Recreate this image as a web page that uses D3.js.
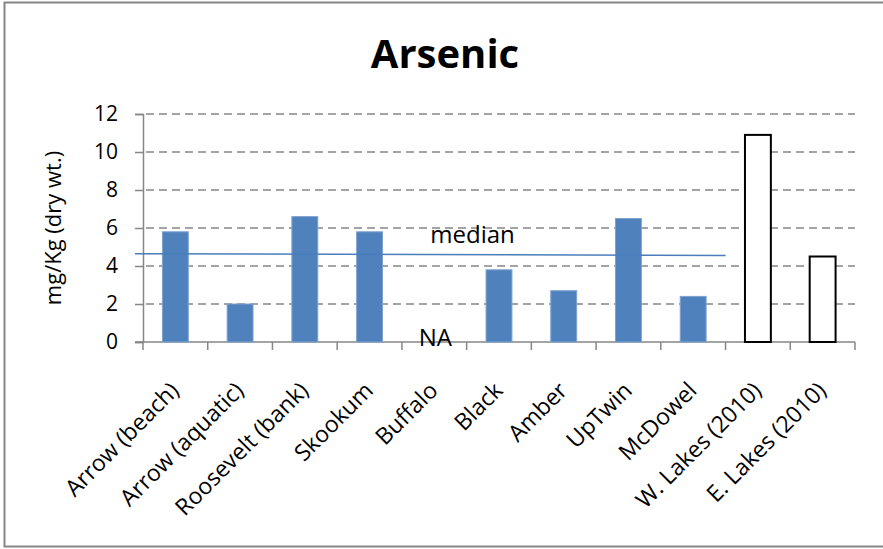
<!DOCTYPE html>
<html>
<head>
<meta charset="utf-8">
<script src="https://cdn.jsdelivr.net/npm/d3@7"></script>
<style>
body { margin: 0; background: #fff; }
text { font-family: "Open Sans", "Noto Sans", sans-serif; fill: #000; }
</style>
</head>
<body>
<script>
var sites = ["Arrow (beach)", "Arrow (aquatic)", "Roosevelt (bank)", "Skookum", "Buffalo",
    "Black", "Amber", "UpTwin", "McDowel", "W. Lakes (2010)", "E. Lakes (2010)"];
var arsenic = [5.8, 2.0, 6.6, 5.8, null, 3.8, 2.7, 6.5, 2.4, 10.9, 4.5];
// the two 2010 lakes are drawn as open bars
var historic = [false, false, false, false, false, false, false, false, false, true, true];
var medianEnds = [4.65, 4.55];
var yTicks = [0, 2, 4, 6, 8, 10, 12];

var W = 883, H = 549;
var margin = { top: 114, right: 28, bottom: 207, left: 143 };
var width = W - margin.left - margin.right,
    height = H - margin.top - margin.bottom;

var svg = d3.select("body").append("svg")
    .attr("width", W)
    .attr("height", H);

// outer chart frame
svg.append("rect")
    .attr("x", 4.5).attr("y", 2.5)
    .attr("width", W + 10).attr("height", 544)
    .attr("fill", "none")
    .attr("stroke", "#868686")
    .attr("stroke-width", 2);

svg.append("text")
    .attr("x", 445).attr("y", 68)
    .attr("text-anchor", "middle")
    .style("font-size", "40px")
    .style("font-weight", "bold")
    .text("Arsenic");

var g = svg.append("g")
    .attr("transform", "translate(" + margin.left + "," + margin.top + ")");

var x = d3.scaleBand()
    .domain(sites)
    .range([0, width])
    .paddingInner(0.6)
    .paddingOuter(0.3);

var y = d3.scaleLinear()
    .domain([0, 12])
    .range([height, 0]);

// dashed gridlines
g.append("g")
    .selectAll("line")
    .data(yTicks.filter(function(d) { return d > 0; }))
    .enter().append("line")
    .attr("x1", 3).attr("x2", width)
    .attr("y1", function(d) { return y(d); })
    .attr("y2", function(d) { return y(d); })
    .attr("stroke", "#868686")
    .attr("stroke-width", 1.5)
    .attr("stroke-dasharray", "8,5");

// y axis
var yAxis = d3.axisLeft(y).tickValues(yTicks).tickSize(8).tickPadding(17);
var ya = g.append("g").call(yAxis);
ya.select(".domain").attr("stroke", "#868686").attr("stroke-width", 1.5);
ya.selectAll(".tick line").attr("stroke", "#868686").attr("stroke-width", 1.5);
ya.selectAll(".tick text").style("font-size", "21px").attr("fill", "#000");

// x axis with ticks between categories
var step = x.step();
var xa = g.append("g").attr("transform", "translate(0," + height + ")");
xa.append("line")
    .attr("x1", -8).attr("x2", width)
    .attr("stroke", "#868686").attr("stroke-width", 1.5);
xa.selectAll("line.tk")
    .data(d3.range(sites.length + 1))
    .enter().append("line")
    .attr("class", "tk")
    .attr("x1", function(i) { return i * step; })
    .attr("x2", function(i) { return i * step; })
    .attr("y1", 0).attr("y2", 8)
    .attr("stroke", "#868686").attr("stroke-width", 1.5);
xa.selectAll("text")
    .data(sites)
    .enter().append("text")
    .attr("transform", function(d) {
        return "translate(" + (x(d) + x.bandwidth() / 2 + 5) + ",50) rotate(-45)";
    })
    .attr("text-anchor", "end")
    .style("font-size", "23px")
    .text(function(d) { return d; });

// bars
g.selectAll(".bar")
    .data(sites.map(function(s, i) { return { site: s, v: arsenic[i], open: historic[i] }; })
        .filter(function(d) { return d.v !== null; }))
    .enter().append("rect")
    .attr("class", "bar")
    .attr("x", function(d) { return x(d.site); })
    .attr("width", x.bandwidth())
    .attr("y", function(d) { return y(d.v); })
    .attr("height", function(d) { return height - y(d.v); })
    .attr("fill", function(d) { return d.open ? "#fff" : "#4f81bd"; })
    .attr("stroke", function(d) { return d.open ? "#000" : "#7fa3d1"; })
    .attr("stroke-width", function(d) { return d.open ? 2 : 1; });

// median line
g.append("line")
    .attr("x1", -8)
    .attr("x2", x("McDowel") + step - (step - x.bandwidth()) / 2)
    .attr("y1", y(medianEnds[0]))
    .attr("y2", y(medianEnds[1]))
    .attr("stroke", "#4a7ebb")
    .attr("stroke-width", 1.5);

g.append("text")
    .attr("x", x("Buffalo") + 9)
    .attr("y", height - 99)
    .style("font-size", "24px")
    .text("median");

g.append("text")
    .attr("x", x("Buffalo") + x.bandwidth() / 2 + 1)
    .attr("y", height + 4)
    .attr("text-anchor", "middle")
    .style("font-size", "24px")
    .text("NA");

svg.append("text")
    .attr("transform", "translate(61,228) rotate(-90)")
    .attr("text-anchor", "middle")
    .style("font-size", "22px")
    .text("mg/Kg (dry wt.)");
</script>
</body>
</html>
